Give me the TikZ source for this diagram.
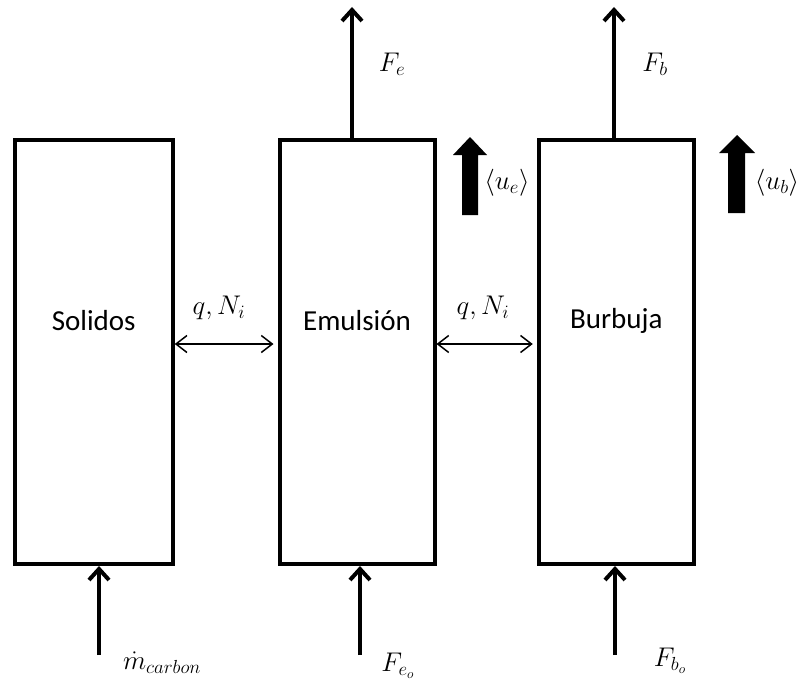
\RequirePackage{fix-cm}
\documentclass[tikz,border=0pt]{standalone}
\usepackage{fontspec}
\setmainfont{Carlito}
\usetikzlibrary{arrows.meta}

\begin{document}
\begin{tikzpicture}[x=1pt, y=-1pt,
  blockbox/.style={draw, line width=4pt, minimum height=424pt},
  phasetext/.style={font=\fontsize{29}{34}\selectfont},
  flow/.style={line width=4pt, -{Straight Barb[length=11pt, width=20pt]}},
  exchange/.style={line width=1.5pt, {Straight Barb[length=11pt, width=17pt]}-{Straight Barb[length=11pt, width=17pt]}},
  lbl/.style={font=\fontsize{27}{31}\selectfont}]
  \useasboundingbox (0,0) rectangle (802,685);

  % the three phases
  \node[blockbox, minimum width=158pt] (sol) at (93.75,352) {};
  \node[blockbox, minimum width=155pt] (emul) at (357,352) {};
  \node[blockbox, minimum width=155pt] (burb) at (616.25,352) {};
  \node[phasetext] (soltext) at ([yshift=31pt]sol.center) {Solidos};
  \node[phasetext] (emultext) at ([yshift=31pt]emul.center) {Emulsión};
  \node[phasetext] (burbtext) at ([yshift=31pt]burb.center) {Burbuja};

  % free ends of the flows
  \coordinate (fe) at (352,7);
  \coordinate (fb) at (614,7);
  \coordinate (mc) at (99,655);
  \coordinate (feo) at (360,655);
  \coordinate (fbo) at (615,655);

  \draw[flow] (emul.north -| fe) -- (fe);
  \draw[flow] (burb.north -| fb) -- (fb);
  \draw[flow] (mc) -- (sol.south -| mc);
  \draw[flow] (feo) -- (emul.south -| feo);
  \draw[flow] (fbo) -- (burb.south -| fbo);

  % exchange between phases
  \draw[exchange] ([yshift=8pt]sol.east) -- ([yshift=8pt,xshift=-4pt]emul.west);
  \draw[exchange] ([yshift=8pt]emul.east) -- ([yshift=8pt,xshift=-4pt]burb.west);

  % mean velocities
  \fill (462,215) -- (462,155) -- (453,155) -- (470,137) -- (487,155) -- (478,155) -- (478,215) -- cycle;
  \fill (728,213) -- (728,153) -- (719,153) -- (737,135) -- (755,153) -- (745,153) -- (745,213) -- cycle;

  \node[lbl] (lfe) at (392,64) {$F_e$};
  \node[lbl] (lfb) at (655,64) {$F_b$};
  \node[lbl] (lq1) at (219,308) {$q,N_i$};
  \node[lbl] (lq2) at (483,308) {$q,N_i$};
  \node[lbl] (lue) at (507,183) {$\langle u_e\rangle$};
  \node[lbl] (lub) at (777,183) {$\langle u_b\rangle$};
  \node[lbl] (lmc) at (162,663) {$\dot m_{carbon}$};
  \node[lbl] (lfeo) at (398,666) {$F_{e_o}$};
  \node[lbl] (lfbo) at (670,661) {$F_{b_o}$};
\end{tikzpicture}
\end{document}
